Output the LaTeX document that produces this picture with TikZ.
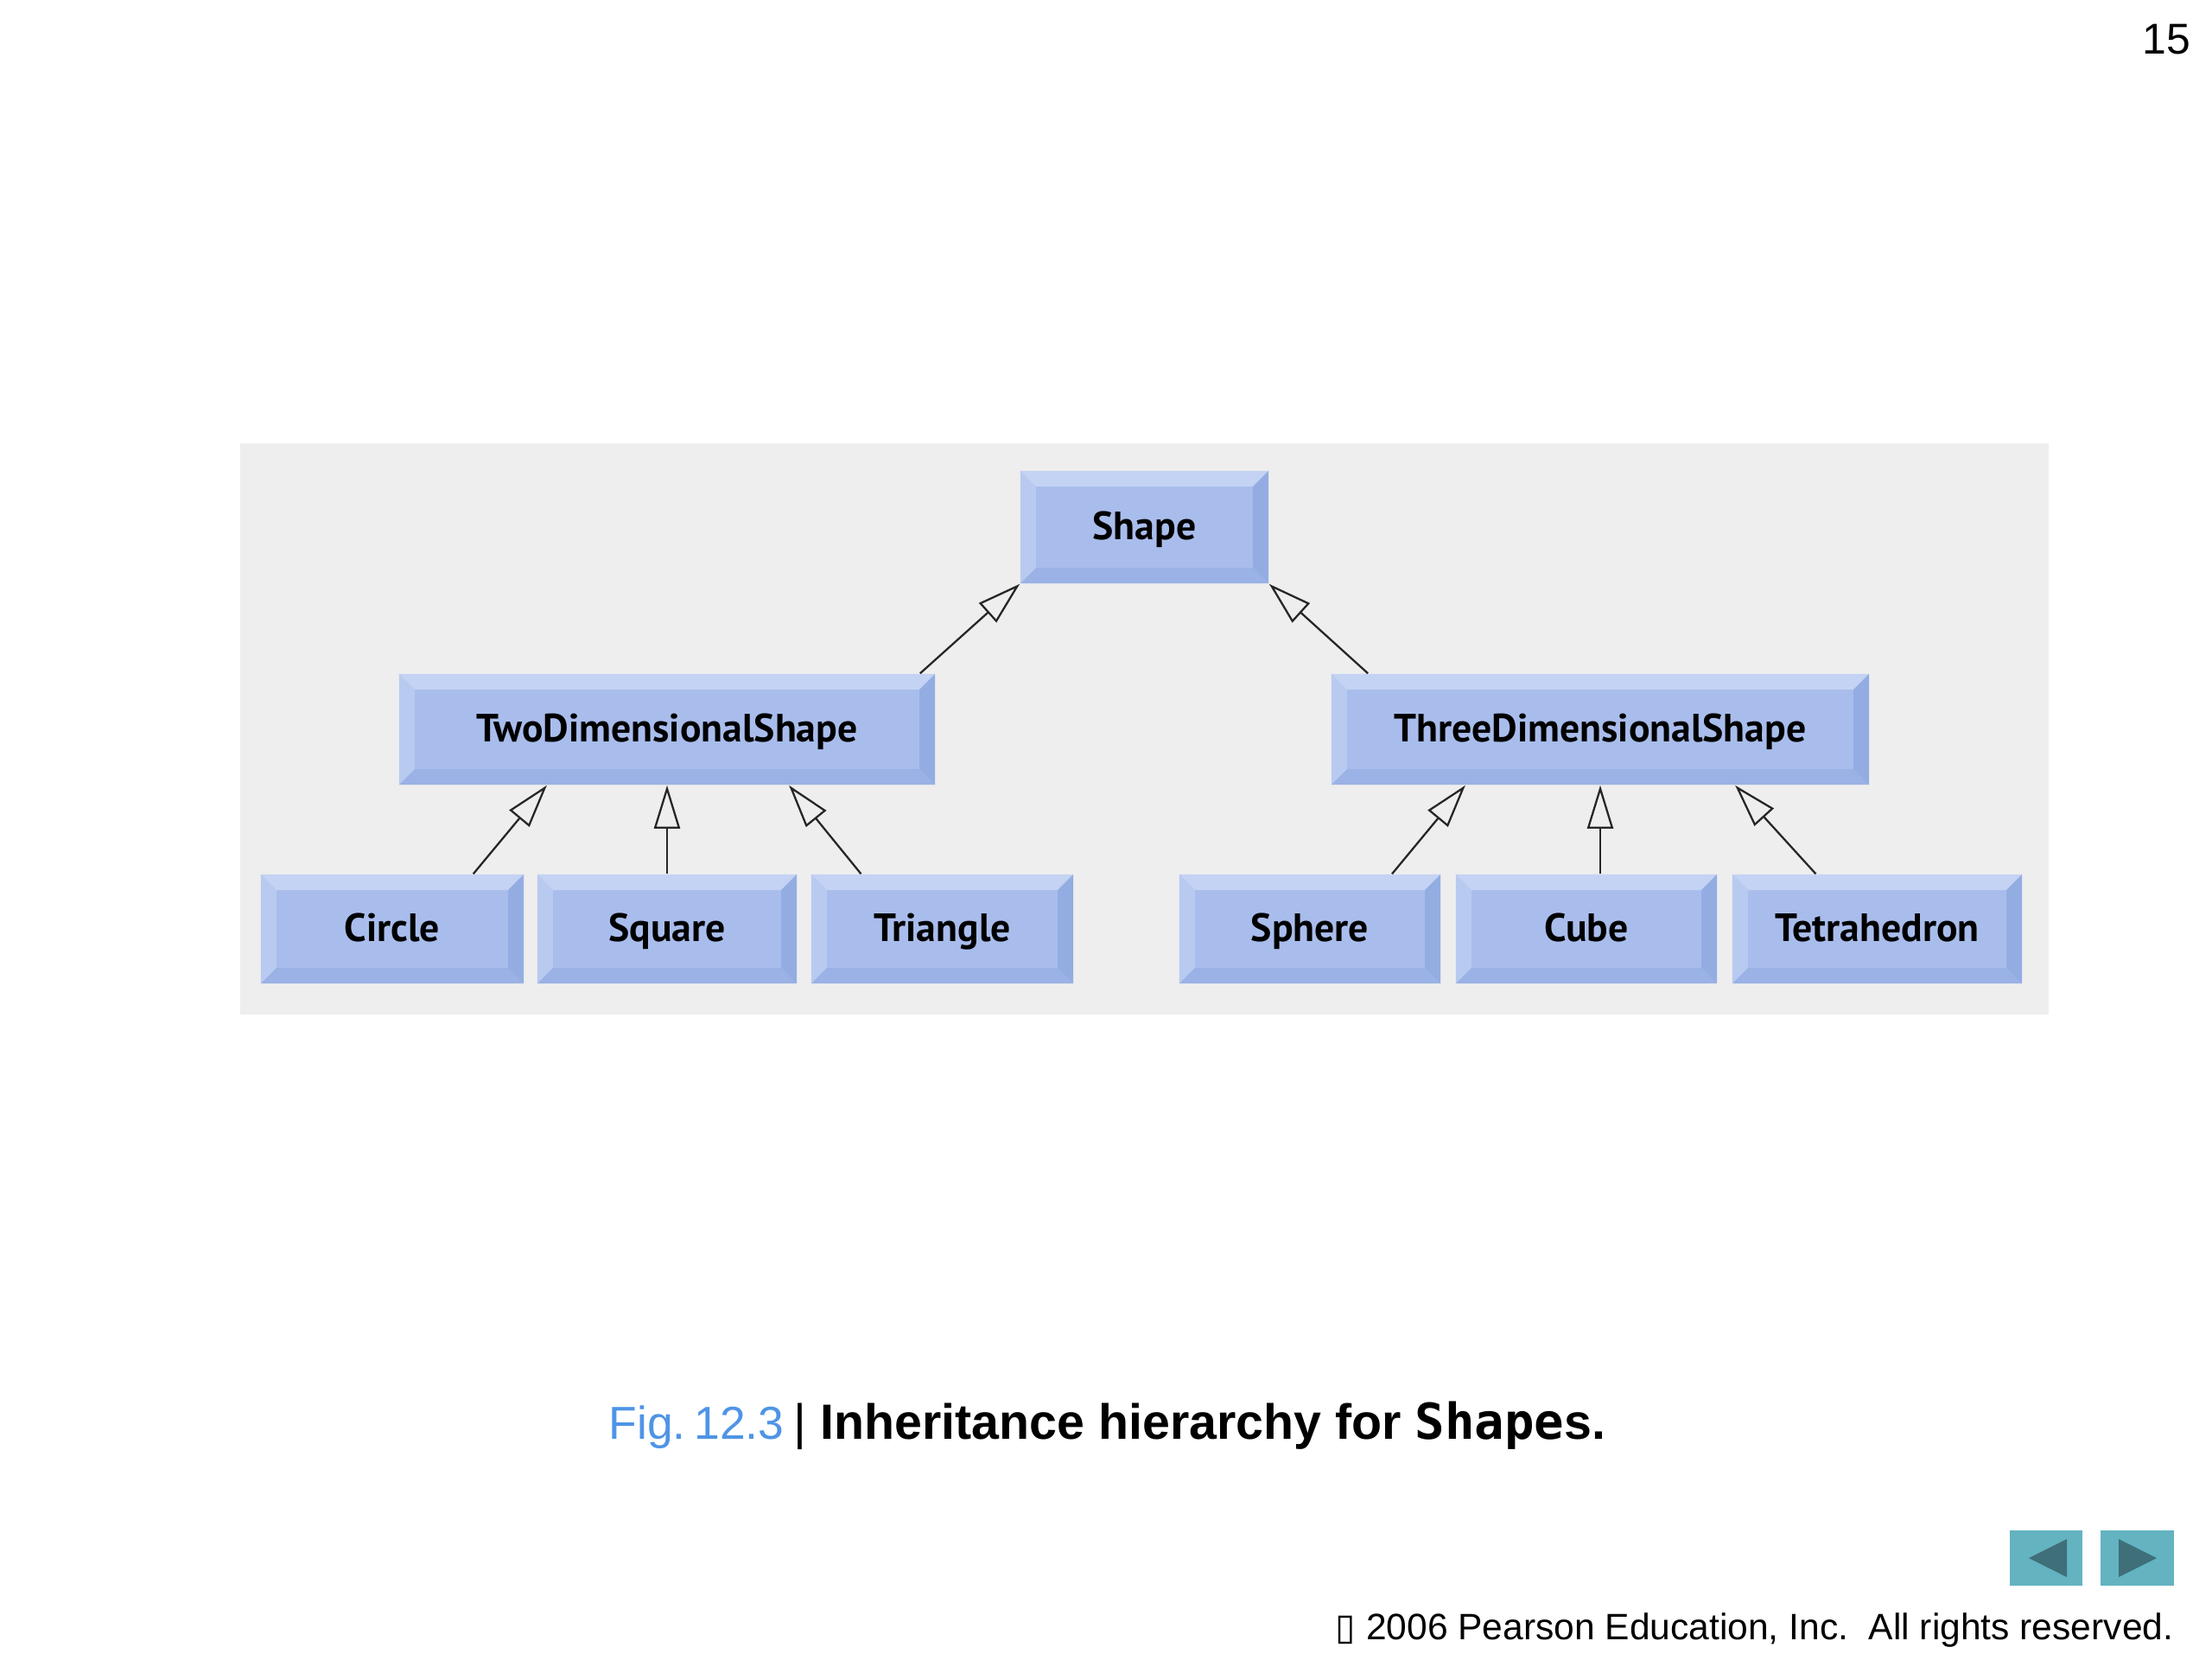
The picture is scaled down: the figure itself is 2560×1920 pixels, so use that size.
\documentclass[tikz,border=0pt]{standalone}
\usepackage{fontspec}
\setmainfont{Liberation Sans}
\newfontfamily\boxfont{PT Sans}
\newfontfamily\capmono{DejaVu Sans Mono}
\newfontfamily\symfont{DejaVu Sans}
\usetikzlibrary{arrows.meta,calc}
\definecolor{panel}{HTML}{EEEEEE}
\definecolor{face}{HTML}{A9BDEC}
\definecolor{bevtop}{HTML}{C4D3F3}
\definecolor{bevleft}{HTML}{B9CAF0}
\definecolor{bevright}{HTML}{93ADE3}
\definecolor{bevbot}{HTML}{9AB2E5}
\definecolor{figblue}{HTML}{4F94E6}
\definecolor{navbg}{HTML}{63B3C1}
\definecolor{navfg}{HTML}{3F6F79}
\newcommand\bvw{1.8mm}
\tikzset{
  cls/.style={rectangle, inner sep=0pt, fill=face, minimum height=1.28cm,
    text height=9pt, text depth=1pt,
    font=\boxfont\bfseries\fontsize{13}{15}\selectfont,
    path picture={
      \fill[bevtop] let \p1=(path picture bounding box.north west), \p2=(path picture bounding box.south east) in
        (\x1,\y1) -- (\x2,\y1) -- (\x2-\bvw,\y1-\bvw) -- (\x1+\bvw,\y1-\bvw) -- cycle;
      \fill[bevbot] let \p1=(path picture bounding box.north west), \p2=(path picture bounding box.south east) in
        (\x1,\y2) -- (\x2,\y2) -- (\x2-\bvw,\y2+\bvw) -- (\x1+\bvw,\y2+\bvw) -- cycle;
      \fill[bevleft] let \p1=(path picture bounding box.north west), \p2=(path picture bounding box.south east) in
        (\x1,\y1) -- (\x1+\bvw,\y1-\bvw) -- (\x1+\bvw,\y2+\bvw) -- (\x1,\y2) -- cycle;
      \fill[bevright] let \p1=(path picture bounding box.north west), \p2=(path picture bounding box.south east) in
        (\x2,\y1) -- (\x2-\bvw,\y1-\bvw) -- (\x2-\bvw,\y2+\bvw) -- (\x2,\y2) -- cycle;
    }},
  inh/.style={-{Triangle[open,length=5mm,width=3mm,line width=0.65pt]}, line width=0.65pt, draw=black!85},
}
\begin{document}
\begin{tikzpicture}[x=0.01cm,y=-0.01cm]
\useasboundingbox[fill=white] (0,0) rectangle (2560,1920);
% panel
\fill[panel] (278,513) rectangle (2371,1174);
% class boxes
\node[cls, minimum width=2.87cm, minimum height=1.30cm] (shape) at (1324.5,610) {Shape};
\node[cls, minimum width=6.20cm] (two) at (772,844) {TwoDimensionalShape};
\node[cls, minimum width=6.22cm] (three) at (1852,844) {ThreeDimensionalShape};
\node[cls, minimum width=3.04cm, minimum height=1.26cm] (circle) at (454,1075) {Circle};
\node[cls, minimum width=3.00cm, minimum height=1.26cm] (square) at (772,1075) {Square};
\node[cls, minimum width=3.03cm, minimum height=1.26cm] (triangle) at (1090.5,1075) {Triangle};
\node[cls, minimum width=3.02cm, minimum height=1.26cm] (sphere) at (1516,1075) {Sphere};
\node[cls, minimum width=3.02cm, minimum height=1.26cm] (cube) at (1836,1075) {Cube};
\node[cls, minimum width=3.35cm, minimum height=1.26cm] (tetra) at (2172.5,1075) {Tetrahedron};
% inheritance arrows
\draw[inh] ([xshift=-1.8mm]two.north east) -- (shape.south west);
\draw[inh] ([xshift=4.3mm]three.north west) -- (shape.south east);
\draw[inh] ([xshift=-5.9mm]circle.north east) -- ([xshift=-13.9mm]two.south);
\draw[inh] (square.north) -- (two.south);
\draw[inh] ([xshift=-9.4mm]triangle.north) -- ([xshift=14.1mm]two.south);
\draw[inh] ([xshift=9.5mm]sphere.north) -- ([xshift=-15.6mm]three.south);
\draw[inh] (cube.north -| three.south) -- (three.south);
\draw[inh] ([xshift=-7.1mm]tetra.north) -- ([xshift=15.6mm]three.south);
% caption
\node[anchor=base west, inner sep=0pt, font=\fontsize{16.3}{19}\selectfont] (caption) at (704,1665)
  {\textcolor{figblue}{\fontsize{15.2}{18}\selectfont Fig.\hspace{0.18em}12.3}\hspace{0.2em}| \textbf{Inheritance hierarchy for {\capmono Shape}s.}};
% page number
\node[anchor=base east, inner sep=0pt, font=\fontsize{14.2}{17}\selectfont] (pagenum) at (2536,62) {15};
% navigation buttons
\fill[navbg] (2326,1771) rectangle (2410,1835);
\fill[navfg] (2348,1803) -- (2392,1781) -- (2392,1825) -- cycle;
\fill[navbg] (2431,1771) rectangle (2516,1835);
\fill[navfg] (2496,1803) -- (2452,1781) -- (2452,1825) -- cycle;
% copyright
\node[anchor=base east, inner sep=0pt, font=\fontsize{12.1}{15}\selectfont] (copy) at (2516,1897)
  {{\symfont\char"25AF} 2006 Pearson Education, Inc.\ \ All rights reserved.};
\end{tikzpicture}
\end{document}
